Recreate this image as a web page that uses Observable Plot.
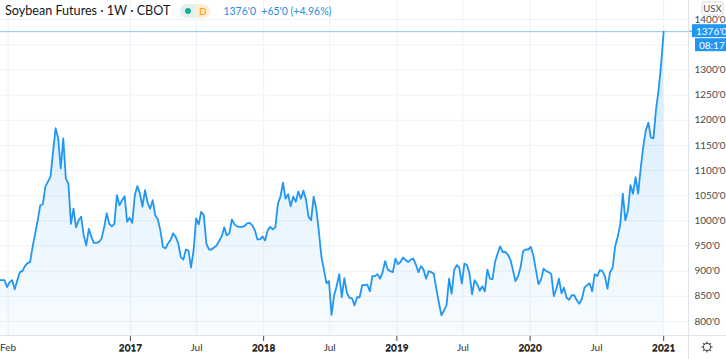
<!DOCTYPE html>
<html>
<head>
<meta charset="utf-8">
<script src="https://cdn.jsdelivr.net/npm/d3@7"></script>
<script src="https://cdn.jsdelivr.net/npm/@observablehq/plot@0.6"></script>
<style>
  body { margin: 0; background: #fff; }
  #wrap { position: relative; width: 726px; height: 359px; overflow: hidden; font-family: Lato, Roboto, sans-serif; }
  #wrap svg { position: absolute; left: 0; top: 0; }
  #legend { position: absolute; left: 5px; top: 3px; display: flex; align-items: center; white-space: nowrap; }
  #title { font-size: 12.6px; color: #131722; }
  #pill { display: inline-flex; height: 14px; border-radius: 7px; overflow: hidden; margin-left: 10px; }
  #pill .l { width: 15px; background: #dff2ee; display: flex; align-items: center; justify-content: center; }
  #pill .l i { width: 6px; height: 6px; border-radius: 3px; background: #22ab94; display: block; }
  #pill .r { width: 15px; background: #ffecd2; color: #ff9800; font-size: 10px; display: flex; align-items: center; justify-content: center; }
  #quote { margin-left: 13px; font-size: 10.5px; color: #2a8de0; }
</style>
</head>
<body>
<div id="wrap">
  <div id="legend">
    <span id="title">Soybean Futures · 1W · CBOT</span>
    <span id="pill"><span class="l"><i></i></span><span class="r">D</span></span>
    <span id="quote">1376'0&nbsp;&nbsp;+65'0 (+4.96%)</span>
  </div>
</div>
<script>
// ---- data (weekly closes, USX) ----
const startDate = "2016-01-08";
const prices = [
  882, 882, 882, 868, 878, 882, 864, 882, 898, 900,
  910, 916, 918, 948, 975, 1001, 1031, 1033, 1068, 1078,
  1088, 1137, 1184, 1164, 1104, 1164, 1084, 1074, 994, 1024,
  987, 1001, 1008, 971, 951, 984, 968, 956, 956, 958,
  965, 987, 1015, 994, 989, 994, 1051, 1031, 1041, 1049,
  998, 1006, 996, 1051, 1069, 1054, 1028, 1061, 1036, 1024,
  1041, 1011, 1003, 981, 948, 945, 955, 962, 975, 968,
  955, 928, 923, 943, 941, 907, 941, 1005, 993, 1018,
  1011, 955, 943, 943, 947, 951, 960, 969, 987, 971,
  975, 1003, 993, 989, 988, 988, 990, 995, 996, 991,
  981, 963, 963, 969, 961, 981, 988, 983, 987, 1034,
  1048, 1076, 1044, 1053, 1029, 1048, 1038, 1058, 1044, 1060,
  1042, 1008, 1001, 1048, 1024, 981, 930, 903, 876, 880,
  813, 852, 870, 894, 848, 886, 857, 847, 846, 832,
  848, 848, 872, 872, 873, 860, 890, 890, 894, 885,
  898, 920, 903, 900, 898, 925, 914, 918, 927, 922,
  918, 923, 925, 913, 898, 910, 903, 885, 900, 898,
  895, 865, 838, 812, 822, 832, 885, 855, 902, 912,
  907, 875, 915, 912, 895, 854, 882, 874, 861, 870,
  860, 903, 885, 884, 918, 935, 949, 938, 938, 933,
  923, 902, 880, 890, 908, 940, 943, 943, 948, 931,
  902, 874, 883, 905, 900, 898, 894, 850, 865, 885,
  856, 867, 847, 843, 852, 852, 842, 835, 845, 867,
  872, 876, 860, 894, 890, 902, 900, 890, 865, 898,
  906, 949, 968, 993, 1054, 1001, 1020, 1071, 1054, 1087,
  1054, 1104, 1147, 1180, 1195, 1166, 1164, 1221, 1260, 1311,
  1376
];
const gridValues = [800, 850, 900, 950, 1000, 1050, 1100, 1150, 1200, 1250, 1300, 1350, 1400];
const yLabelValues = [800, 850, 900, 950, 1000, 1050, 1100, 1150, 1200, 1250, 1300, 1400];
const xTickDates = ["2016-02-01","2017-01-01","2017-07-01","2018-01-01","2018-07-01","2019-01-01","2019-07-01","2020-01-01","2020-07-01","2021-01-01"];
const xTickLabels = ["Feb","2017","Jul","2018","Jul","2019","Jul","2020","Jul","2021"];
const yDomain = [772, 1438];
const xDomain = ["2016-01-11", "2021-03-10"];
const lastPrice = prices[prices.length - 1];
const priceLabel = "1376'0";
const countdown = "08:17";
const currency = "USX";

// ---- build ----
const W = 726, H = 359, MR = 38, MB = 24;
const FONT = "Lato, Roboto, sans-serif";
const data = prices.map((p, i) => ({date: d3.utcDay.offset(new Date(startDate), 7 * i), price: p}));
const ticks = xTickDates.map((d, i) => ({date: new Date(d), label: xTickLabels[i], year: /^\d{4}$/.test(xTickLabels[i])}));

const plot = Plot.plot({
  width: W, height: H,
  marginLeft: 0, marginRight: MR, marginTop: 0, marginBottom: MB,
  style: {fontFamily: FONT, fontSize: "10px", background: "transparent", color: "#4a4a4a", overflow: "visible"},
  x: {type: "utc", domain: xDomain.map(d => new Date(d))},
  y: {domain: yDomain},
  marks: [
    Plot.gridX(ticks.map(d => d.date), {stroke: "#eef1f6", strokeOpacity: 1}),
    Plot.gridY(gridValues, {stroke: "#eef1f6", strokeOpacity: 1}),
    Plot.areaY(data, {x: "date", y1: yDomain[0], y2: "price", fill: "url(#areaGrad)"}),
    Plot.ruleY([lastPrice], {stroke: "#8cc4f5", strokeWidth: 1}),
    Plot.lineY(data, {x: "date", y: "price", stroke: "#2196f3", strokeWidth: 1.8}),
    Plot.axisY(yLabelValues, {anchor: "right", tickSize: 0, tickPadding: 6, tickFormat: d => `${d}'0`, label: null}),
    Plot.text(ticks.filter(d => !d.year), {x: "date", text: "label", frameAnchor: "bottom", dy: 15, fill: "#333"}),
    Plot.text(ticks.filter(d => d.year), {x: "date", text: "label", frameAnchor: "bottom", dy: 15, fill: "#222", fontWeight: "bold"})
  ]
});

const svg = d3.select(plot);
const defs = svg.insert("defs", ":first-child");
const g = defs.append("linearGradient").attr("id", "areaGrad").attr("x1", 0).attr("x2", 0).attr("y1", 0).attr("y2", 1);
g.append("stop").attr("offset", "0%").attr("stop-color", "#2196f3").attr("stop-opacity", 0.2);
g.append("stop").attr("offset", "100%").attr("stop-color", "#2196f3").attr("stop-opacity", 0.03);

const xs = plot.scale("x"), ys = plot.scale("y");
const xr = xs.apply(new Date(xDomain[1]));
const yb = ys.apply(yDomain[0]);
const py = ys.apply(lastPrice);

// separators
svg.append("line").attr("x1", 0).attr("x2", W).attr("y1", yb + 0.5).attr("y2", yb + 0.5).attr("stroke", "#e0e3eb");
svg.append("line").attr("x1", xr + 0.5).attr("x2", xr + 0.5).attr("y1", 0).attr("y2", H).attr("stroke", "#e0e3eb");

// currency box
const cb = svg.append("g").attr("transform", `translate(${W - 24},2)`);
cb.append("rect").attr("width", 21).attr("height", 13).attr("rx", 2).attr("fill", "#fff").attr("stroke", "#d6d9e0");
cb.append("text").attr("x", 10.5).attr("y", 10).attr("text-anchor", "middle").attr("font-size", 9.5).attr("fill", "#4a4a4a").attr("font-family", FONT).text(currency);

// price label + countdown
const pl = svg.append("g").attr("transform", `translate(${xr},${py})`).attr("font-family", FONT).attr("font-size", 10).attr("text-anchor", "start");
pl.append("line").attr("x1", 1).attr("x2", 6).attr("y1", 0).attr("y2", 0).attr("stroke", "#2196f3");
pl.append("rect").attr("x", 4).attr("y", -7).attr("width", W - xr - 4).attr("height", 13).attr("fill", "#2196f3");
pl.append("text").attr("x", 8).attr("y", 3.5).attr("fill", "#fff").text(priceLabel);
pl.append("rect").attr("x", 7).attr("y", 7).attr("width", W - xr - 7).attr("height", 13).attr("fill", "#2196f3");
pl.append("text").attr("x", 11).attr("y", 17.5).attr("fill", "#fff").text(countdown);

// settings gear
const gx = xr + (W - xr) / 2, gy = yb + (H - yb) / 2;
const gear = svg.append("g").attr("transform", `translate(${gx},${gy})`).attr("stroke", "#555").attr("fill", "none").attr("stroke-width", 1.1);
gear.append("circle").attr("r", 3.6);
d3.range(8).forEach(k => {
  const a = k * Math.PI / 4;
  gear.append("line").attr("x1", Math.cos(a) * 3.6).attr("y1", Math.sin(a) * 3.6).attr("x2", Math.cos(a) * 5.6).attr("y2", Math.sin(a) * 5.6);
});

document.getElementById("wrap").prepend(plot);
</script>
</body>
</html>
